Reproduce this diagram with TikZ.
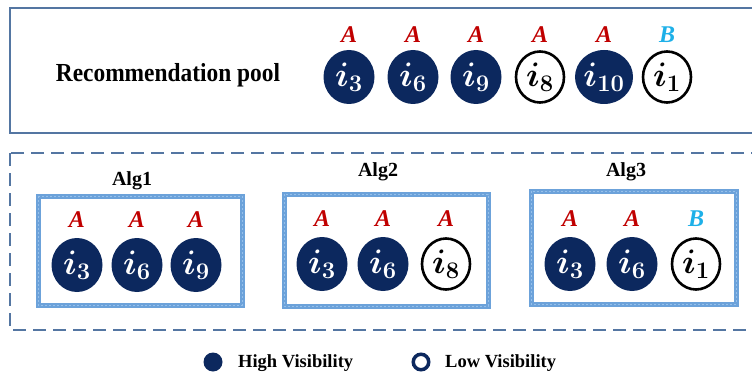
\RequirePackage{fix-cm}
\documentclass[tikz,border=0pt]{standalone}
\usepackage{fontspec}
\setmainfont{Liberation Serif}
\usetikzlibrary{shapes.geometric}
\definecolor{navy}{RGB}{12,40,94}
\definecolor{redA}{RGB}{192,0,0}
\definecolor{cyanB}{RGB}{30,176,232}
\definecolor{frameblue}{RGB}{84,118,162}
\definecolor{algframe}{RGB}{108,162,218}
\definecolor{algtex}{RGB}{150,192,234}
\begin{document}
\boldmath
\begin{tikzpicture}[x=1pt,y=-1pt,
  hi/.style={ellipse,fill=navy,text=white,minimum width=51pt,minimum height=54pt,inner sep=0pt,font=\fontsize{34}{34}\selectfont},
  lo/.style={ellipse,draw=black,line width=2.6pt,fill=white,text=black,minimum width=48pt,minimum height=51pt,inner sep=0pt,font=\fontsize{34}{34}\selectfont},
  la/.style={text=redA,font=\fontsize{24}{24}\selectfont\bfseries\itshape,inner sep=0pt},
  lb/.style={text=cyanB,font=\fontsize{24}{24}\selectfont\bfseries\itshape,inner sep=0pt},
  ttl/.style={font=\fontsize{20}{20}\selectfont\bfseries,inner sep=0pt},
  algbox/.style={draw=algframe,line width=5pt},
  algtexture/.style={draw=algtex,line width=0.7pt,dash pattern=on 2pt off 2pt},
  legtxt/.style={font=\fontsize{18.5}{18.5}\selectfont\bfseries,inner sep=0pt,anchor=west}
]
\useasboundingbox (0,0) rectangle (752,377);
\clip (0,0) rectangle (752,377);
% top frame
\draw[frameblue,line width=2pt] (10,8) rectangle (790,133);
\node[font=\fontsize{26}{26}\selectfont\bfseries,inner sep=0pt,xscale=0.9] (pool) at (168,75) {Recommendation pool};
\foreach \x/\s/\t/\l/\n in {349/3/hi/la/A,413/6/hi/la/A,476/9/hi/la/A,540/8/lo/la/A,604/10/hi/la/A,667/1/lo/lb/B}{
  \node[\t] (p\s) at (\x,77) {$i_{\s}$};
  \node[\l] (pl\s) at (\x,35) {\n};
}
% dashed frame
\draw[frameblue,line width=2.5pt,dash pattern=on 13pt off 7pt] (10,153) rectangle (790,330);
% Alg1
\node[ttl] (alg1) at (132,181) {Alg1};
\draw[algbox] (38,196) rectangle (242,305);
\draw[algtexture] (38,196) rectangle (242,305);
\foreach \x/\s/\t/\l/\n in {77/3/hi/la/A,137/6/hi/la/A,196/9/hi/la/A}{
  \node[\t] (a\s) at (\x,265) {$i_{\s}$};
  \node[\l] (al\s) at (\x,220) {\n};
}
% Alg2
\node[ttl] (alg2) at (378,172) {Alg2};
\draw[algbox] (284,194) rectangle (488,306);
\draw[algtexture] (284,194) rectangle (488,306);
\foreach \x/\s/\t/\l/\n in {322/3/hi/la/A,383/6/hi/la/A,446/8/lo/la/A}{
  \node[\t] (b\s) at (\x,264) {$i_{\s}$};
  \node[\l] (bl\s) at (\x,219) {\n};
}
% Alg3
\node[ttl] (alg3) at (626,172) {Alg3};
\draw[algbox] (531,191) rectangle (736,304);
\draw[algtexture] (531,191) rectangle (736,304);
\foreach \x/\s/\t/\l/\n in {570/3/hi/la/A,632/6/hi/la/A,696/1/lo/lb/B}{
  \node[\t] (c\s) at (\x,264) {$i_{\s}$};
  \node[\l] (cl\s) at (\x,219) {\n};
}
% legend
\node[circle,fill=navy,minimum size=19pt,inner sep=0pt] (lhi) at (213,362) {};
\node[legtxt] (lhit) at (238,363) {High Visibility};
\node[circle,draw=navy,line width=3.5pt,minimum size=15.5pt,inner sep=0pt] (llo) at (421,362) {};
\node[legtxt] (llot) at (445,363) {Low Visibility};
\end{tikzpicture}
\end{document}
